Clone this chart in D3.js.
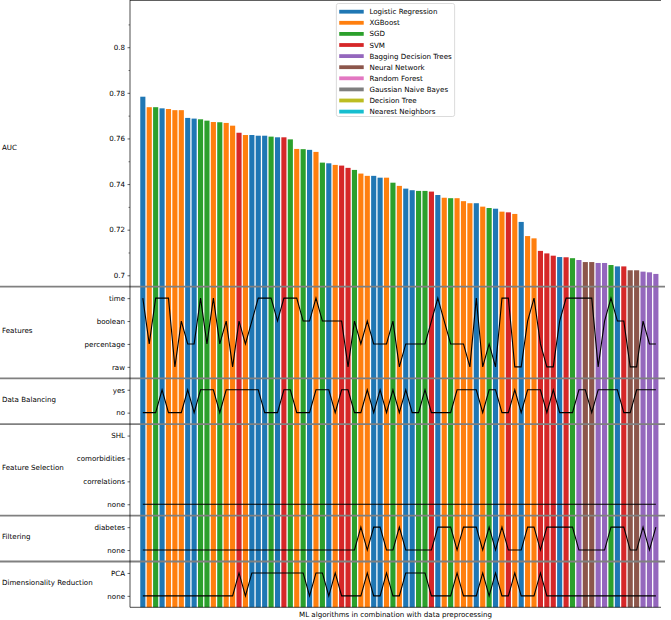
<!DOCTYPE html>
<html><head><meta charset="utf-8">
<script src="https://cdn.jsdelivr.net/npm/d3@7"></script>
<style>
body{margin:0;background:#fff}
text{font-family:"DejaVu Sans",sans-serif;font-size:7.1px;fill:#000}
</style>
</head><body>
<svg id="chart" width="671" height="620"></svg>
<script>
// ---------- data ----------
const modelNames = ["Logistic Regression","XGBoost","SGD","SVM","Bagging Decision Trees","Neural Network","Random Forest","Gaussian Naive Bayes","Decision Tree","Nearest Neighbors"];
const modelColors = ["#1f77b4","#ff7f0e","#2ca02c","#d62728","#9467bd","#8c564b","#e377c2","#7f7f7f","#bcbd22","#17becf"];
// model index (into modelNames) for every bar, left to right
const barModel = [0,1,2,0,1,1,1,0,0,2, 2,1,2,1,1,3,1,0,0,0, 2,0,3,2,1,2,0,1,2,0,
                  1,3,3,2,1,1,0,0,1,2, 1,0,0,2,2,3,0,1,2,1, 1,1,0,1,2,0,1,3,1,0,
                  1,1,3,3,3,0,3,2,4,5, 5,4,4,2,0,3,5,5,4,4, 4];
const auc = [0.7783,0.7737,0.7737,0.7732,0.7729,0.7724,0.7724,0.7690,0.7687,0.7684,
             0.7678,0.7672,0.7671,0.7668,0.7656,0.7625,0.7615,0.7615,0.7612,0.7612,
             0.7608,0.7605,0.7605,0.7596,0.7554,0.7553,0.7550,0.7541,0.7494,0.7491,
             0.7484,0.7481,0.7471,0.7462,0.7446,0.7436,0.7436,0.7428,0.7428,0.7406,
             0.7392,0.7380,0.7373,0.7370,0.7370,0.7367,0.7352,0.7340,0.7338,0.7338,
             0.7325,0.7316,0.7316,0.7301,0.7295,0.7292,0.7279,0.7276,0.7269,0.7234,
             0.7172,0.7162,0.7107,0.7096,0.7086,0.7080,0.7079,0.7075,0.7067,0.7058,
             0.7058,0.7054,0.7054,0.7045,0.7039,0.7039,0.7022,0.7022,0.7016,0.7013,
             0.7006];
const aucTicks = [0.70,0.72,0.74,0.76,0.78,0.80];
const aucMinorTicks = [0.71,0.73,0.75,0.77,0.79,0.81];

const featureLevels = ["raw","percentage","boolean","time"];
const balancingLevels = ["no","yes"];
const selectionLevels = ["none","correlations","comorbidities","SHL"];
const filteringLevels = ["none","diabetes"];
const reductionLevels = ["none","PCA"];

// level index per bar
const features  = [3,1,3,3,3,0,2,1,1,3, 1,3,1,2,0,2,1,2,3,3, 3,2,3,3,3,2,2,3,2,2,
                   2,2,0,2,1,2,1,1,1,2, 0,1,1,1,1,2,3,2,1,1, 1,0,3,0,1,0,3,3,0,0,
                   2,3,1,0,0,2,3,3,3,3, 3,0,2,3,2,2,0,0,2,1, 1];
const balancing = [0,0,0,1,0,0,0,1,0,1, 1,1,0,1,1,1,1,1,1,0, 0,0,1,1,0,0,0,1,1,1,
                   0,1,1,0,0,1,0,1,0,1, 0,1,0,0,1,0,0,0,0,1, 1,1,1,0,1,1,0,0,1,0,
                   1,1,1,0,1,0,0,0,1,1, 0,1,1,1,1,0,0,1,1,1, 1];
const selection = [0,0,0,0,0,0,0,0,0,0, 0,0,0,0,0,0,0,0,0,0, 0,0,0,0,0,0,0,0,0,0,
                   0,0,0,0,0,0,0,0,0,0, 0,0,0,0,0,0,0,0,0,0, 0,0,0,0,0,0,0,0,0,0,
                   0,0,0,0,0,0,0,0,0,0, 0,0,0,0,0,0,0,0,0,0, 0];
const filtering = [0,0,0,0,0,0,0,0,0,0, 0,0,0,0,0,0,0,0,0,0, 0,0,0,0,0,0,0,0,0,0,
                   0,0,0,0,1,0,1,1,0,0, 1,0,0,0,0,0,1,1,1,0, 1,1,1,0,1,0,1,0,0,0,
                   1,1,0,1,1,1,1,1,0,0, 0,0,0,1,1,1,0,0,1,0, 1];
const reduction = [0,0,0,0,0,0,0,0,0,0, 0,0,0,0,0,1,0,1,1,1, 1,1,1,1,1,1,0,1,1,0,
                   1,0,0,0,0,1,0,0,1,0, 0,1,1,1,1,0,0,0,0,1, 0,0,0,1,0,1,0,0,1,0,
                   0,0,1,0,0,0,0,0,0,0, 0,0,0,0,0,0,0,0,0,0, 0];

const panelNames = ["Features","Data Balancing","Feature Selection","Filtering","Dimensionality Reduction"];
const xLabel = "ML algorithms in combination with data preprocessing";
const yLabel = "AUC";

// ---------- layout ----------
const svg = d3.select("#chart");
const L = 130, R = 661;
const topY0 = 0, topY1 = 286.7;
const unit = 22.9;

const x = d3.scaleLinear().domain([-2, 80.8]).range([L, R]);
const bw = x(0.4) - x(-0.4);
const y = d3.scaleLinear().domain([0.695, 0.8207]).range([topY1, topY0]);

const panels = [
  {name: panelNames[0], levels: featureLevels,   vals: features},
  {name: panelNames[1], levels: balancingLevels, vals: balancing},
  {name: panelNames[2], levels: selectionLevels, vals: selection},
  {name: panelNames[3], levels: filteringLevels, vals: filtering},
  {name: panelNames[4], levels: reductionLevels, vals: reduction}
];
let cur = topY1;
panels.forEach(p => {
  p.top = cur; p.bottom = cur + unit * p.levels.length; cur = p.bottom;
  p.scale = d3.scalePoint().domain(p.levels).range([p.bottom, p.top]).padding(0.5);
});
const bottomY = cur;

// ---------- top bars ----------
svg.append("clipPath").attr("id","clipTop").append("rect")
  .attr("x", L).attr("y", topY0).attr("width", R - L).attr("height", topY1 - topY0);
svg.append("g").attr("clip-path","url(#clipTop)")
  .selectAll("rect").data(auc).join("rect")
  .attr("x", (d,i) => x(i) - bw/2).attr("width", bw)
  .attr("y", d => y(d)).attr("height", d => topY1 - y(d))
  .attr("fill", (d,i) => modelColors[barModel[i]]);

// ---------- lower panels ----------
panels.forEach(p => {
  const g = svg.append("g");
  g.selectAll("rect").data(p.vals).join("rect")
    .attr("x", (d,i) => x(i) - bw/2).attr("width", bw)
    .attr("y", p.top).attr("height", p.bottom - p.top)
    .attr("fill", (d,i) => modelColors[barModel[i]]);
  const line = d3.line().x((d,i) => x(i)).y(d => p.scale(p.levels[d]));
  g.append("path").datum(p.vals).attr("d", line)
    .attr("fill","none").attr("stroke","#000").attr("stroke-width",1.1);
  const ax = svg.append("g").attr("transform",`translate(${L},0)`)
    .call(d3.axisLeft(p.scale).tickSize(2.5).tickPadding(2.5));
  ax.select(".domain").remove();
  ax.selectAll("text").style("font-size","7.1px").style("font-family","DejaVu Sans").attr("fill","#000");
  ax.selectAll("line").attr("stroke","#000").attr("stroke-width",0.6);
  svg.append("text").attr("x", 2).attr("y", (p.top + p.bottom)/2 - 2)
    .attr("dominant-baseline","central").text(p.name);
});

// ---------- top axis ----------
const ay = svg.append("g").attr("transform",`translate(${L},0)`)
  .call(d3.axisLeft(y).tickValues(aucTicks).tickFormat(d => String(+d.toFixed(2))).tickSize(2.5).tickPadding(2.5));
ay.select(".domain").remove();
ay.selectAll("text").style("font-size","7.1px").style("font-family","DejaVu Sans").attr("fill","#000");
ay.selectAll("line").attr("stroke","#000").attr("stroke-width",0.6);
const aym = svg.append("g").attr("transform",`translate(${L},0)`)
  .call(d3.axisLeft(y).tickValues(aucMinorTicks).tickFormat("").tickSize(1.5));
aym.select(".domain").remove();
aym.selectAll("line").attr("stroke","#000").attr("stroke-width",0.5);
svg.append("text").attr("x", 2).attr("y", 147).attr("dominant-baseline","central").text(yLabel);

// ---------- separators & spines ----------
const seps = [topY1].concat(panels.slice(0,-1).map(p => p.bottom));
svg.append("g").selectAll("line").data(seps).join("line")
  .attr("x1", 0).attr("x2", 665).attr("y1", d => d).attr("y2", d => d)
  .attr("stroke","#808080").attr("stroke-width",1.8);
svg.append("line").attr("x1",L).attr("x2",L).attr("y1",0).attr("y2",bottomY)
  .attr("stroke","#000").attr("stroke-width",0.7);
svg.append("line").attr("x1",L).attr("x2",R).attr("y1",bottomY).attr("y2",bottomY)
  .attr("stroke","#000").attr("stroke-width",0.7);
svg.append("line").attr("x1",L).attr("x2",R).attr("y1",0.4).attr("y2",0.4)
  .attr("stroke","#000").attr("stroke-width",0.7);

svg.append("text").attr("x", (L+R)/2).attr("y", 614).attr("text-anchor","middle")
  .attr("dominant-baseline","central").text(xLabel);

// ---------- legend ----------
const fs = 7.1, pad = 0.4*fs, hl = 24.5, htp = 0.8*fs, rowH = 11.1;
const leg = svg.append("g");
const items = leg.selectAll("g").data(modelNames).join("g");
const txts = items.append("text").attr("dominant-baseline","central").text(d => d);
const maxW = d3.max(txts.nodes(), n => n.getComputedTextLength());
const boxW = pad + hl + htp + maxW + pad;
const boxH = 113;
const bx = (L + R)/2 - boxW/2, by = 3.5;
leg.insert("rect", ":first-child").attr("x", bx).attr("y", by).attr("width", boxW).attr("height", boxH)
  .attr("rx", 2).attr("fill","#fff").attr("fill-opacity",0.8).attr("stroke","#cccccc").attr("stroke-width",0.7);
items.attr("transform", (d,i) => `translate(${bx + pad},${by + 8.2 + i*rowH})`);
txts.attr("x", hl + htp).attr("y", 0);
items.append("rect").attr("x", 0).attr("y", -1.9).attr("width", hl).attr("height", 3.8)
  .attr("fill", (d,i) => modelColors[i]);
</script>
</body></html>
